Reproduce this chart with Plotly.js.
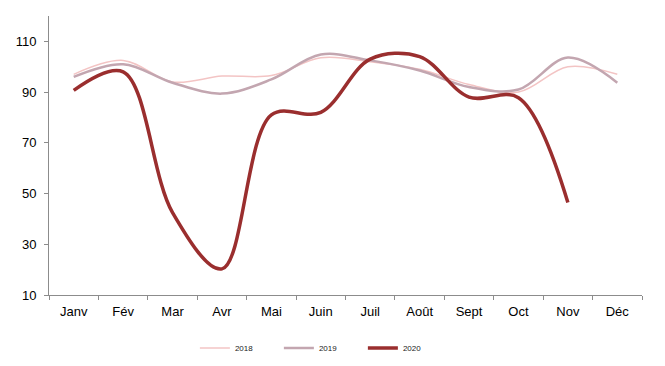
<!DOCTYPE html>
<html>
<head>
<meta charset="utf-8">
<script src="https://cdn.plot.ly/plotly-3.0.1.min.js"></script>
<style>html,body{margin:0;padding:0;background:#fff}#chart{width:665px;height:366px}</style>
</head>
<body>
<div id="chart"></div>
<script>
var months = ["Janv","Fév","Mar","Avr","Mai","Juin","Juil","Août","Sept","Oct","Nov","Déc"];
var values2018 = [97, 102.5, 94, 96.3, 96.5, 103.5, 102, 99, 93, 90, 100, 97];
var values2019 = [96, 101, 93.7, 89.4, 95, 104.8, 102.5, 98.5, 92, 91, 103.6, 93.7];
var values2020 = [90.7, 98, 42.5, 20.3, 81, 82, 103, 104, 88, 87.8, 46.5];
var yTicks = [10, 30, 50, 70, 90, 110];

var axisColor = "#8c8c8c";
var traces = [
  {x: months, y: values2018, name: "2018", type: "scatter", mode: "lines",
   line: {color: "#f3c4c4", width: 1.5, shape: "spline", smoothing: 1}},
  {x: months, y: values2019, name: "2019", type: "scatter", mode: "lines",
   line: {color: "#c3a6b0", width: 2.5, shape: "spline", smoothing: 1}},
  {x: months.slice(0, values2020.length), y: values2020, name: "2020", type: "scatter", mode: "lines",
   line: {color: "#9a2e2e", width: 3.5, shape: "spline", smoothing: 1}}
];

var layout = {
  width: 665, height: 366,
  margin: {l: 49, r: 23, t: 16, b: 71, autoexpand: false},
  paper_bgcolor: "#fff", plot_bgcolor: "#fff",
  font: {family: "Liberation Sans, Arial, sans-serif", size: 13, color: "#000"},
  showlegend: true,
  legend: {orientation: "h", x: 0.246, xanchor: "left", y: -0.19, yanchor: "middle",
           font: {size: 8, color: "#222"}, entrywidth: 39, entrywidthmode: "pixels",
           bgcolor: "rgba(0,0,0,0)"},
  xaxis: {type: "category", categoryorder: "array", categoryarray: months,
          range: [-0.5, 11.5], tickson: "boundaries", ticks: "outside", ticklen: 4,
          tickcolor: axisColor, showline: true, linecolor: axisColor, linewidth: 1,
          showgrid: false, zeroline: false, ticklabelstandoff: 4, fixedrange: true},
  yaxis: {range: [10, 120], tickvals: yTicks, ticktext: yTicks.map(String),
          ticks: "outside", ticklen: 4, tickcolor: axisColor, showline: true,
          linecolor: axisColor, linewidth: 1, showgrid: false, zeroline: false,
          ticklabelstandoff: 5, fixedrange: true}
};

Plotly.newPlot("chart", traces, layout, {displayModeBar: false, staticPlot: true});
</script>
</body>
</html>
